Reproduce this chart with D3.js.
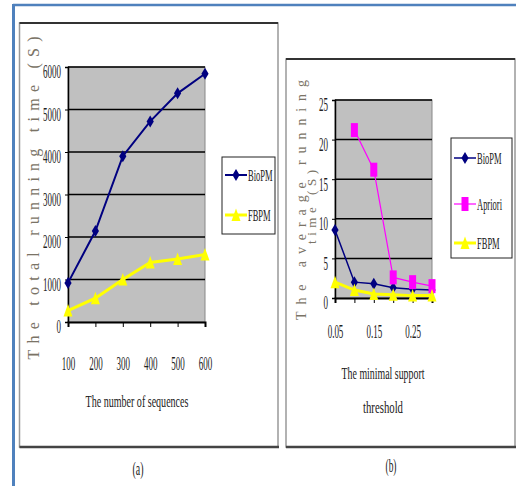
<!DOCTYPE html>
<html>
<head>
<meta charset="utf-8">
<script src="https://cdn.jsdelivr.net/npm/d3@7"></script>
<style>
  body { margin: 0; background: #fff; }
  svg { display: block; }
  text { font-family: 'Liberation Serif', 'DejaVu Serif', serif; }
</style>
</head>
<body>
<svg id="chart" width="516" height="486"></svg>
<script>
// chart (a): running time vs number of sequences
var seqCats = [100, 200, 300, 400, 500, 600]
var bioA = [920, 2140, 3900, 4720, 5380, 5840]
var fbpmA = [270, 560, 1000, 1400, 1480, 1590]
var ticksA = [0, 1000, 2000, 3000, 4000, 5000, 6000]

// chart (b): average running time vs minimal support
var supCats = ['0.05', '0.1', '0.15', '0.2', '0.25', '0.3']
var supShown = ['0.05', '0.15', '0.25']
var bioB = [8.6, 2.0, 1.8, 1.3, 1.1, 1.0]
var aprB = [null, 21.2, 16.2, 2.6, 2.0, 1.5]
var fbpmB = [2.0, 1.0, 0.5, 0.4, 0.3, 0.3]
var ticksB = [0, 5, 10, 15, 20, 25]

var svg = d3.select('#chart')

// narrow the glyphs around their anchor point (the scan is squeezed sideways)
var squeeze = (sel, k) => {
  sel.each(function () {
    var t = d3.select(this)
    var x = +t.attr('x') || 0
    var y = +t.attr('y') || 0
    t.attr('transform', 'translate(' + x + ',' + y + ') scale(' + k + ',1) translate(' + (-x) + ',' + (-y) + ')')
  })
}

// blue frame
svg.append('line').attr('x1', 13).attr('x2', 516).attr('y1', 5).attr('y2', 5)
  .attr('stroke', '#4f81bd').attr('stroke-width', 2.5)
svg.append('line').attr('x1', 13.5).attr('x2', 13.5).attr('y1', 4).attr('y2', 486)
  .attr('stroke', '#4f81bd').attr('stroke-width', 3)

var box = (x0, y0, x1, y1) => {
  svg.append('rect').attr('x', x0).attr('y', y0).attr('width', x1 - x0).attr('height', y1 - y0)
    .attr('fill', '#fff').attr('stroke', '#999').attr('stroke-width', 1.5)
  svg.append('line').attr('x1', x0).attr('x2', x1).attr('y1', y0).attr('y2', y0)
    .attr('stroke', '#333').attr('stroke-width', 2)
  svg.append('line').attr('x1', x0).attr('x2', x1 + 1).attr('y1', y1).attr('y2', y1)
    .attr('stroke', '#444').attr('stroke-width', 2.5)
}
box(19.5, 23, 278, 447)
box(286, 59, 515, 447)

var markers = {
  diamond: (g, c) => g.append('path').attr('d', 'M0,-6L3.6,0L0,6L-3.6,0Z').attr('fill', c),
  square: (g, c) => g.append('rect').attr('x', -3.5).attr('y', -7).attr('width', 7).attr('height', 14).attr('fill', c),
  triangle: (g, c) => g.append('path').attr('d', 'M0,-6.5L4.5,6L-4.5,6Z').attr('fill', c)
}

var drawPlot = (o) => {
  var x = d3.scalePoint().domain(o.cats).range([o.left, o.right])
  var y = d3.scaleLinear().domain([0, o.max]).range([o.bottom, o.top])
  var g = svg.append('g')

  g.append('rect').attr('x', o.left).attr('y', o.top)
    .attr('width', o.right - o.left).attr('height', o.bottom - o.top)
    .attr('fill', '#c0c0c0').attr('stroke', '#888').attr('stroke-width', 1)

  g.selectAll('.grid')
    .data(o.ticks.filter((d) => d > 0))
    .enter()
    .append('line')
    .attr('x1', o.left).attr('x2', o.right)
    .attr('y1', (d) => y(d)).attr('y2', (d) => y(d))
    .attr('stroke', '#000').attr('stroke-width', 1.5)

  var ya = g.append('g').attr('transform', 'translate(' + o.left + ',0)')
    .call(d3.axisLeft(y).tickValues(o.ticks).tickSize(3).tickPadding(o.yPad).tickFormat(d3.format('d')))
  ya.select('.domain').attr('stroke', '#000').attr('stroke-width', 1.5)
  ya.selectAll('text').attr('font-size', 18).attr('fill', '#222').attr('dy', '0.6em')
  squeeze(ya.selectAll('text'), 0.5)

  var xa = g.append('g').attr('transform', 'translate(0,' + o.bottom + ')')
    .call(d3.axisBottom(x).tickSize(5).tickPadding(o.xPad)
      .tickFormat((d) => (o.shown.indexOf(d) >= 0 ? d : '')))
  xa.select('.domain').attr('stroke', '#000').attr('stroke-width', 2)
  xa.selectAll('text').attr('font-size', 18).attr('fill', '#222')
  squeeze(xa.selectAll('text'), 0.5)

  o.series.forEach((s) => {
    var line = d3.line()
      .defined((d) => d !== null)
      .x((d, i) => x(o.cats[i]))
      .y((d) => y(d))
    g.append('path').datum(s.values)
      .attr('d', line)
      .attr('fill', 'none')
      .attr('stroke', s.color)
      .attr('stroke-width', s.width)
    s.values.forEach((v, i) => {
      if (v === null) return
      var m = g.append('g').attr('transform', 'translate(' + x(o.cats[i]) + ',' + y(v) + ')')
      markers[s.marker](m, s.color)
    })
  })

  // legend
  var lg = svg.append('g')
  lg.append('rect').attr('x', o.leg.x0).attr('y', o.leg.y0)
    .attr('width', o.leg.x1 - o.leg.x0).attr('height', o.leg.y1 - o.leg.y0)
    .attr('fill', '#fff').attr('stroke', '#222').attr('stroke-width', 1)
  o.series.forEach((s, i) => {
    var ly = o.leg.rows[i]
    lg.append('line').attr('x1', o.leg.x0 + 3).attr('x2', o.leg.x0 + 25)
      .attr('y1', ly).attr('y2', ly).attr('stroke', s.color).attr('stroke-width', s.width)
    var m = lg.append('g').attr('transform', 'translate(' + (o.leg.x0 + 14) + ',' + ly + ')')
    markers[s.marker](m, s.color)
    var t = lg.append('text').attr('x', o.leg.x0 + 26).attr('y', ly + 6)
      .attr('font-size', 17).attr('fill', '#222').text(s.name)
    squeeze(t, 0.5)
  })
}

drawPlot({
  cats: seqCats, shown: seqCats, max: 6000, ticks: ticksA,
  left: 68, right: 205, top: 67, bottom: 322, yPad: 4, xPad: 30,
  series: [
    { name: 'BioPM', values: bioA, color: '#000080', width: 2, marker: 'diamond' },
    { name: 'FBPM', values: fbpmA, color: '#ffff00', width: 3, marker: 'triangle' }
  ],
  leg: { x0: 222, x1: 275, y0: 157, y1: 234, rows: [175, 215] }
})

drawPlot({
  cats: supCats, shown: supShown, max: 25, ticks: ticksB,
  left: 335, right: 432, top: 100, bottom: 298, yPad: 4, xPad: 22,
  series: [
    { name: 'BioPM', values: bioB, color: '#000080', width: 1.5, marker: 'diamond' },
    { name: 'Apriori', values: aprB, color: '#ff00ff', width: 1.2, marker: 'square' },
    { name: 'FBPM', values: fbpmB, color: '#ffff00', width: 3, marker: 'triangle' }
  ],
  leg: { x0: 451, x1: 512, y0: 138, y1: 258, rows: [158, 204, 243] }
})

// titles
var vtitle = (cx, cy, len, txt, size) => {
  svg.append('text')
    .attr('transform', 'translate(' + cx + ',' + cy + ') rotate(-90)')
    .attr('text-anchor', 'middle')
    .attr('font-size', size)
    .attr('fill', '#7a7366')
    .attr('textLength', len)
    .attr('lengthAdjust', 'spacing')
    .text(txt)
}
vtitle(39, 198, 323, 'The total running time (S)', 16)
vtitle(306, 200, 240, 'The average running', 14)
vtitle(316, 207, 74, 'time (S)', 13)

var htitle = (cx, by, w, txt, size) => {
  var t = svg.append('text').attr('x', cx).attr('y', by)
    .attr('text-anchor', 'middle')
    .attr('font-size', size).attr('fill', '#222')
    .text(txt)
  squeeze(t, w / t.node().getComputedTextLength())
}
htitle(137, 407, 103, 'The number of sequences', 17)
htitle(383, 379, 83, 'The minimal support', 17)
htitle(383, 413, 40, 'threshold', 17)
htitle(138, 475, 11, '(a)', 18)
htitle(391, 472, 11, '(b)', 18)
</script>
</body>
</html>
